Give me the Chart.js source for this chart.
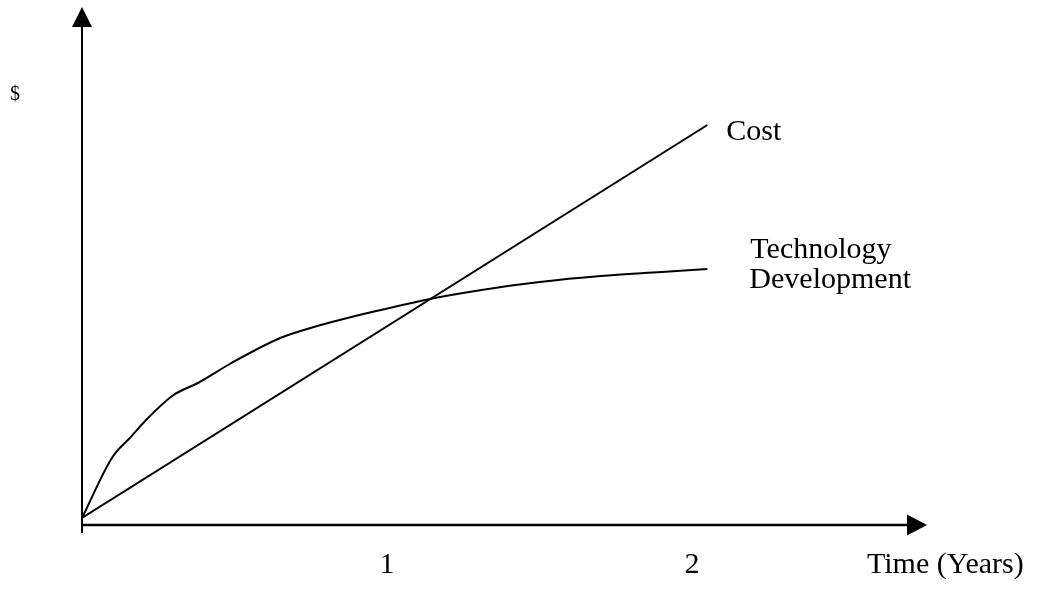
<!DOCTYPE html>
<html>
<head>
<meta charset="utf-8">
<script src="https://cdn.jsdelivr.net/npm/chart.js@4.4.1/dist/chart.umd.min.js"></script>
<style>
  html, body { margin: 0; padding: 0; background: #fff; }
  #wrap { width: 1044px; height: 591px; }
</style>
</head>
<body>
<div id="wrap"><canvas id="costChart" width="1044" height="591"></canvas></div>
<script>
// time in years along the bottom, $ up the side (no units on the original)
const techYears = [0, 0.10, 0.16, 0.21, 0.30, 0.38, 0.49, 0.65, 0.76, 0.87, 0.98, 1.14, 1.31, 1.50, 1.70, 1.90, 2.05];
const techValues = [0, 0.61, 0.81, 0.98, 1.23, 1.35, 1.55, 1.80, 1.91, 2.00, 2.08, 2.19, 2.28, 2.36, 2.42, 2.46, 2.49];
const costYears = [0, 2.05];
const costValues = [0, 3.93];
const yearTicks = [1, 2];
const costLabel = 'Cost';
const techLabel = ['Technology', 'Development'];
const xTitle = 'Time (Years)';
const yTitle = '$';

const serif = '"Liberation Serif", "Times New Roman", serif';

function toPoints(xs, ys) {
  return xs.map((x, i) => ({ x: x, y: ys[i] }));
}

// hand drawn look: arrows for axes, text next to the line ends
const sketchAxes = {
  id: 'sketchAxes',
  afterDraw(chart) {
    const ctx = chart.ctx;
    const a = chart.chartArea;
    const xs = chart.scales.x;
    const ys = chart.scales.y;
    ctx.save();
    ctx.strokeStyle = '#000';
    ctx.fillStyle = '#000';

    // y axis + arrow
    ctx.lineWidth = 2;
    ctx.beginPath();
    ctx.moveTo(a.left, a.bottom + 8);
    ctx.lineTo(a.left, a.top + 18);
    ctx.stroke();
    ctx.beginPath();
    ctx.moveTo(a.left, a.top);
    ctx.lineTo(a.left - 10, a.top + 20);
    ctx.lineTo(a.left + 10, a.top + 20);
    ctx.closePath();
    ctx.fill();

    // x axis + arrow
    ctx.lineWidth = 2.5;
    ctx.beginPath();
    ctx.moveTo(a.left, a.bottom);
    ctx.lineTo(a.right - 18, a.bottom);
    ctx.stroke();
    ctx.beginPath();
    ctx.moveTo(a.right, a.bottom);
    ctx.lineTo(a.right - 20, a.bottom - 10.5);
    ctx.lineTo(a.right - 20, a.bottom + 10.5);
    ctx.closePath();
    ctx.fill();

    ctx.font = '30px ' + serif;
    ctx.textBaseline = 'alphabetic';

    // year ticks
    ctx.textAlign = 'center';
    yearTicks.forEach(t => {
      ctx.fillText(String(t), xs.getPixelForValue(t), a.bottom + 48);
    });
    ctx.textAlign = 'left';
    ctx.fillText(xTitle, a.right - 60, a.bottom + 48);

    // series labels at the end of each line
    const cx = xs.getPixelForValue(costYears[costYears.length - 1]);
    const cy = ys.getPixelForValue(costValues[costValues.length - 1]);
    ctx.fillText(costLabel, cx + 19, cy + 15);

    const tx = xs.getPixelForValue(techYears[techYears.length - 1]);
    const ty = ys.getPixelForValue(techValues[techValues.length - 1]);
    ctx.fillText(techLabel[0], tx + 43, ty - 11);
    ctx.fillText(techLabel[1], tx + 42, ty + 19);

    ctx.font = '20px ' + serif;
    ctx.fillText(yTitle, 10, a.top + 93);
    ctx.restore();
  }
};

const ctx = document.getElementById('costChart');
const chart = new Chart(ctx, {
  type: 'line',
  data: {
    datasets: [{
      label: costLabel,
      data: toPoints(costYears, costValues),
      borderColor: '#000',
      borderWidth: 2,
      pointRadius: 0,
      tension: 0
    }, {
      label: techLabel.join(' '),
      data: toPoints(techYears, techValues),
      borderColor: '#000',
      borderWidth: 2,
      pointRadius: 0,
      cubicInterpolationMode: 'monotone'
    }]
  },
  options: {
    responsive: false,
    animation: false,
    layout: { padding: { left: 82, right: 117, top: 7, bottom: 66 } },
    plugins: { legend: { display: false }, tooltip: { enabled: false } },
    scales: {
      x: { type: 'linear', min: 0, max: 2.77, display: false },
      y: { type: 'linear', min: -0.07, max: 5.11, display: false }
    }
  },
  plugins: [sketchAxes]
}); // close chart
</script>
</body>
</html>
